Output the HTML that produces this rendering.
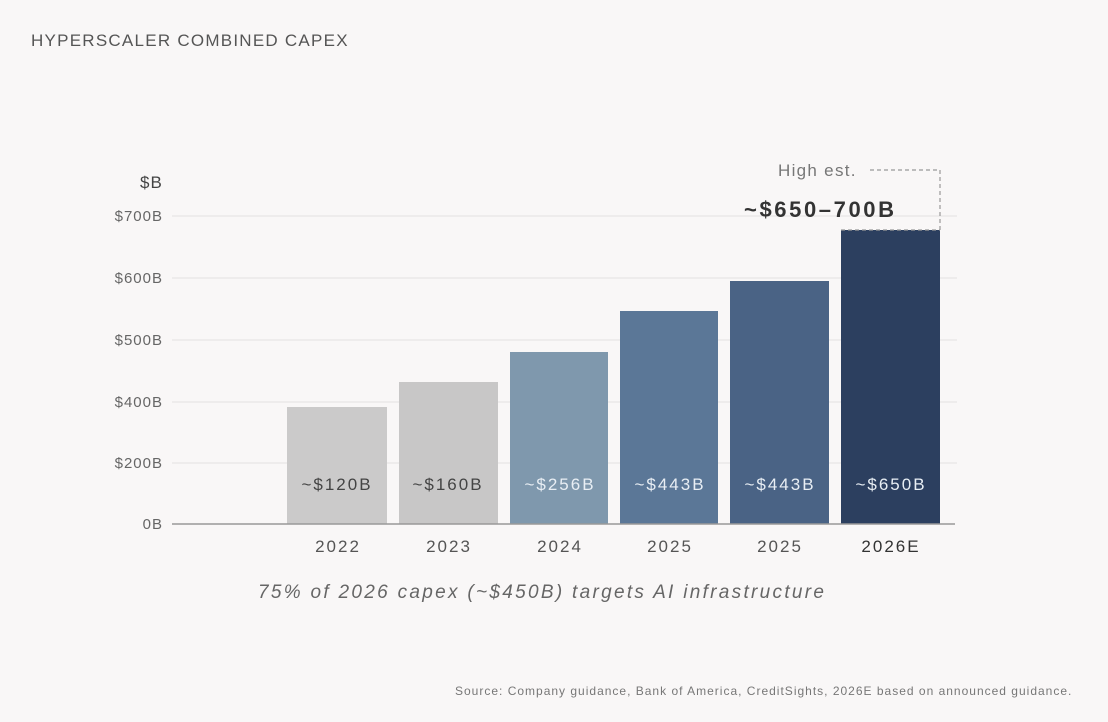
<!DOCTYPE html>
<html><head><meta charset="utf-8"><style>
html,body{margin:0;padding:0;background:#f9f7f7;}
body{width:1108px;height:722px;position:relative;overflow:hidden;font-family:"Liberation Sans","DejaVu Sans",sans-serif;}
.t{position:absolute;white-space:nowrap;}
</style></head><body>
<div class="t" style="left:31px;top:31px;font-size:17px;letter-spacing:1.25px;color:#555;">HYPERSCALER COMBINED CAPEX</div>
<svg width="1108" height="722" style="position:absolute;left:0;top:0" font-family="Liberation Sans, DejaVu Sans, sans-serif">
<g stroke="#e4e2e2" stroke-width="1">
<line x1="172" y1="216" x2="957" y2="216"/>
<line x1="172" y1="278" x2="957" y2="278"/>
<line x1="172" y1="340" x2="957" y2="340"/>
<line x1="172" y1="402" x2="957" y2="402"/>
<line x1="172" y1="463" x2="957" y2="463"/>
</g>
<g font-size="15" fill="#666" text-anchor="end" letter-spacing="1">
<text x="163" y="221">$700B</text>
<text x="163" y="283">$600B</text>
<text x="163" y="345">$500B</text>
<text x="163" y="407">$400B</text>
<text x="163" y="468">$200B</text>
<text x="163" y="529">0B</text>
</g>
<text x="140" y="188" font-size="17" fill="#444" letter-spacing="1">$B</text>
<rect x="287" y="407" width="100" height="117" fill="#cbcaca"/>
<rect x="399" y="382" width="99" height="142" fill="#c8c7c7"/>
<rect x="510" y="352" width="98" height="172" fill="#7f98ad"/>
<rect x="620" y="311" width="98" height="213" fill="#5b7797"/>
<rect x="730" y="281" width="99" height="243" fill="#4a6385"/>
<rect x="841" y="230" width="99" height="294" fill="#2c3f5f"/>
<line x1="172" y1="524" x2="955" y2="524" stroke="#999" stroke-width="1.5"/>
<path d="M870 170 H940 V230 M841 230 H940" fill="none" stroke="#999" stroke-width="1.2" stroke-dasharray="4,3"/>
<text x="778" y="176" font-size="17" fill="#777" letter-spacing="1.3">High est.</text>
<text x="744" y="217" font-size="22" font-weight="bold" fill="#333" letter-spacing="2.6">~$650–700B</text>
<g font-size="17" text-anchor="middle" letter-spacing="2">
<text x="337" y="490" fill="#444">~$120B</text>
<text x="448" y="490" fill="#444">~$160B</text>
<text x="560" y="490" fill="#e8eef4">~$256B</text>
<text x="670" y="490" fill="#e8eef4">~$443B</text>
<text x="780" y="490" fill="#e8eef4">~$443B</text>
<text x="891" y="490" fill="#e8eef4">~$650B</text>
</g>
<g font-size="17" fill="#555" text-anchor="middle" letter-spacing="2">
<text x="338" y="552">2022</text>
<text x="449" y="552">2023</text>
<text x="560" y="552">2024</text>
<text x="670" y="552">2025</text>
<text x="780" y="552">2025</text>
<text x="891" y="552" fill="#333">2026E</text>
</g>
<text x="258" y="598" font-size="19" font-style="italic" fill="#666" letter-spacing="2.3">75% of 2026 capex (~$450B) targets AI infrastructure</text>
<text x="455" y="695" font-size="12" fill="#777" letter-spacing="1">Source: Company guidance, Bank of America, CreditSights, 2026E based on announced guidance.</text>
</svg>
</body></html>
